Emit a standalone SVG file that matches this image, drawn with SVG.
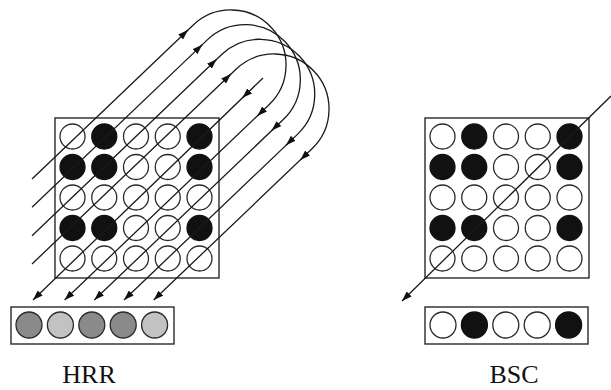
<svg xmlns="http://www.w3.org/2000/svg" xmlns:xlink="http://www.w3.org/1999/xlink" width="611" height="390" viewBox="0 0 611 390">
<style>
.box{fill:none;stroke:#2a2a2a;stroke-width:1.4}
.o{fill:none;stroke:#2a2a2a;stroke-width:1.3}
.b{fill:#111;stroke:#111;stroke-width:1.3}
.dk{fill:#8a8a8a;stroke:#2a2a2a;stroke-width:1.3}
.lt{fill:#c2c2c2;stroke:#2a2a2a;stroke-width:1.3}
.ln{fill:none;stroke:#1a1a1a;stroke-width:1.3}
.lab{font-family:"Liberation Serif","Times New Roman",serif;font-size:26px;fill:#111;text-anchor:middle}
</style>
<defs>
<marker id="ah" markerUnits="userSpaceOnUse" viewBox="0 0 10 7" refX="10" refY="3.5" markerWidth="10" markerHeight="7" orient="auto">
<path d="M0,0 L10,3.5 L0,7 z" fill="#111"/>
</marker>
<g id="matrix">
<rect class="box" x="0" y="0" width="164" height="160"/>
<circle class="o" cx="17.5" cy="18.5" r="12.5"/><circle class="b" cx="49.25" cy="18.5" r="12.5"/><circle class="o" cx="81" cy="18.5" r="12.5"/><circle class="o" cx="112.75" cy="18.5" r="12.5"/><circle class="b" cx="144.5" cy="18.5" r="12.5"/>
<circle class="b" cx="17.5" cy="49" r="12.5"/><circle class="b" cx="49.25" cy="49" r="12.5"/><circle class="o" cx="81" cy="49" r="12.5"/><circle class="o" cx="112.75" cy="49" r="12.5"/><circle class="b" cx="144.5" cy="49" r="12.5"/>
<circle class="o" cx="17.5" cy="79.5" r="12.5"/><circle class="o" cx="49.25" cy="79.5" r="12.5"/><circle class="o" cx="81" cy="79.5" r="12.5"/><circle class="o" cx="112.75" cy="79.5" r="12.5"/><circle class="o" cx="144.5" cy="79.5" r="12.5"/>
<circle class="b" cx="17.5" cy="110" r="12.5"/><circle class="b" cx="49.25" cy="110" r="12.5"/><circle class="o" cx="81" cy="110" r="12.5"/><circle class="o" cx="112.75" cy="110" r="12.5"/><circle class="b" cx="144.5" cy="110" r="12.5"/>
<circle class="o" cx="17.5" cy="140.5" r="12.5"/><circle class="o" cx="49.25" cy="140.5" r="12.5"/><circle class="o" cx="81" cy="140.5" r="12.5"/><circle class="o" cx="112.75" cy="140.5" r="12.5"/><circle class="o" cx="144.5" cy="140.5" r="12.5"/>
</g>
</defs>

<g id="hrr-matrix"><use xlink:href="#matrix" href="#matrix" transform="translate(55,118)"/></g>

<g id="hrr-output" transform="translate(11,307)">
<rect class="box" x="0" y="0" width="163" height="37"/>
<circle class="dk" cx="18" cy="18" r="13"/><circle class="lt" cx="49.4" cy="18" r="13"/><circle class="dk" cx="80.8" cy="18" r="13"/><circle class="dk" cx="112.2" cy="18" r="13"/><circle class="lt" cx="143.6" cy="18" r="13"/>
</g>

<g id="hrr-label"><text class="lab" x="89" y="383">HRR</text></g>

<g id="bsc-matrix"><use xlink:href="#matrix" href="#matrix" transform="translate(425,118)"/></g>

<g id="bsc-output" transform="translate(425,307)">
<rect class="box" x="0" y="0" width="163" height="37"/>
<circle class="o" cx="18" cy="18" r="13"/><circle class="b" cx="49.4" cy="18" r="13"/><circle class="o" cx="80.8" cy="18" r="13"/><circle class="o" cx="112.2" cy="18" r="13"/><circle class="b" cx="143.6" cy="18" r="13"/>
</g>

<g id="bsc-label"><text class="lab" x="514" y="383">BSC</text></g>

<g id="connectors">
<path class="ln" d="M32,179 L193,25.2 A55 55 0 0 1 269,104.8 L64.6,300" marker-end="url(#ah)"/>
<path class="ln" d="M32,207.3 L207.3,39.9 A55 55 0 0 1 283.3,119.5 L94.3,300" marker-end="url(#ah)"/>
<path class="ln" d="M32,235.7 L221.7,54.5 A55 55 0 0 1 297.7,134.1 L124,300" marker-end="url(#ah)"/>
<path class="ln" d="M32,264 L236,69.2 A55 55 0 0 1 312,148.8 L153.7,300" marker-end="url(#ah)"/>
<path class="ln" d="M263,78 L33,300" marker-end="url(#ah)"/>
<path class="ln" d="M185,32.8 L187.9,30" marker-end="url(#ah)"/>
<path class="ln" d="M199.3,47.5 L202.2,44.7" marker-end="url(#ah)"/>
<path class="ln" d="M213.7,62.1 L216.6,59.3" marker-end="url(#ah)"/>
<path class="ln" d="M228,76.8 L230.9,74" marker-end="url(#ah)"/>
<path class="ln" d="M260.3,113.1 L257.4,115.9" marker-end="url(#ah)"/>
<path class="ln" d="M274.6,127.8 L271.7,130.6" marker-end="url(#ah)"/>
<path class="ln" d="M289,142.4 L286.1,145.2" marker-end="url(#ah)"/>
<path class="ln" d="M303.3,157.1 L300.4,159.9" marker-end="url(#ah)"/>
<path class="ln" d="M245.4,95 L242.5,97.8" marker-end="url(#ah)"/>
<path class="ln" d="M611,96 L402,301" marker-end="url(#ah)"/>
</g>
</svg>
